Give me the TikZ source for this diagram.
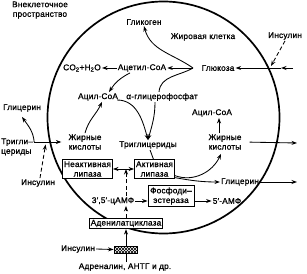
\documentclass[tikz,border=0pt]{standalone}
\usepackage{fontspec}
\setmainfont{Liberation Sans}[RawFeature={embolden=0.9}, LetterSpace=2]
\usetikzlibrary{arrows.meta,positioning,patterns}

\begin{document}
\begin{tikzpicture}[
    x=1pt, y=1pt,
    every node/.style={font=\fontsize{8.3}{9.6}\selectfont, inner sep=1pt},
    lbl/.style={align=center},
    enzyme/.style={rectangle, draw, fill=white, line width=0.9pt, align=center, inner sep=1.5pt},
    flow/.style={-{Stealth[length=5.5pt, width=4pt]}, line width=0.85pt},
    twoway/.style={{Stealth[length=5.5pt, width=4pt]}-{Stealth[length=5.5pt, width=4pt]}, line width=0.85pt},
    signal/.style={flow, dash pattern=on 4pt off 2.5pt},
    membrane/.style={line width=1.7pt},
]
\useasboundingbox (0,0) rectangle (307,273);

% Cell membrane
\draw[membrane] (163.5,155.5) circle (116pt);

% Outside the cell
\node[lbl] (space) at (40,263) {Внеклеточное\\пространство};
\node (insA) at (285,237) {Инсулин};
\node (glyL) at (22,165) {Глицерин};
\node[align=left, anchor=west] (tgOut) at (0,126) {Тригли–\\цериды};
\node (insL) at (38,90) {Инсулин};
\node (insB) at (78,24) {Инсулин};
\node (hormones) at (125,6) {Адреналин, АНТГ и др.};

% Inside the cell
\node (adipocyte) at (203,236) {Жировая клетка};
\node (glycogen) at (144,251) {Гликоген};
\node (glucose) at (218,205) {Глюкоза};
\node (acetyl) at (142,205) {Ацетил-CoA};
\node (co2) at (82,205) {CO\textsubscript{2}+H\textsubscript{2}O};
\node (acylL) at (98,176) {Ацил-CoA};
\node (agp) at (162,176) {α-глицерофосфат};
\node (acylR) at (212,160) {Ацил-CoA};
\node[lbl] (faL) at (85,131) {Жирные\\кислоты};
\node (tg) at (148,128) {Триглицериды};
\node[lbl] (faR) at (225,131) {Жирные\\кислоты};
\node (glyR) at (240,91) {Глицерин};
\node (camp) at (113,72) {3′,5′-цАМФ};
\node (amp) at (227,72) {5′-АМФ};

% Enzymes
\node[enzyme, minimum width=45pt] (inLip) at (87.5,104) {Неактивная\\липаза};
\node[enzyme, minimum width=37pt] (actLip) at (154.5,104) {Активная\\липаза};
\node[enzyme, minimum width=46pt] (pde) at (171,77) {Фосфоди–\\эстераза};
\node[enzyme, minimum width=72pt, inner xsep=0.8pt] (adc) at (126,49.5) {Аденилатциклаза};

% Glucose uptake and its fate
\coordinate (gin) at (293,205);
\coordinate (gate) at (281,205);
\coordinate (pore) at (271,207);
\coordinate (fork) at (193,205);
\draw[flow] (gin) -- (gate);
\draw[flow] (gate) -- (glucose.east);
\draw[signal] (insA.south) -- (pore);
\draw[flow] (fork) -- (acetyl.east);
\draw[flow] (fork) to[out=145, in=-75] (glycogen.south);
\draw[line width=0.85pt] (fork) to[out=210, in=85] ([xshift=-3pt]agp.north);
\draw[flow] (acetyl.west) -- (co2.east);
\draw[flow] ([xshift=-12pt]acetyl.south) to[bend right=15] ([xshift=11pt]acylL.north);

% Triglyceride synthesis
\draw[flow] (faL.north) to[out=75, in=-115] ([xshift=4pt]acylL.south);
\draw[flow] ([xshift=-2pt, yshift=-3pt]acylL.east) to[out=0, in=105] (tg.north);
\draw[flow] ([xshift=-7pt]agp.south) to[out=-90, in=75] (tg.north);

% Uptake of triglycerides from outside
\coordinate (split) at ([yshift=5pt]tgOut.east);
\coordinate (lipblock) at (46,131);
\draw[flow, shorten >=6pt] (split) -- (faL.west |- split);
\draw[flow] (split) to[out=95, in=-55] ([yshift=-4pt]glyL.south);
\draw[signal, shorten >=2.5pt] ([xshift=2pt]insL.north) -- (lipblock);

% Lipolysis
\coordinate (gout) at (297,91);
\coordinate (fout) at (297,130);
\draw[line width=0.85pt] ([xshift=2pt]tg.south) -- ([xshift=-1pt]actLip.north);
\draw[flow] ([yshift=3pt]actLip.south east) to[out=-20, in=-115] ([xshift=-4pt, yshift=-3pt]faR.south);
\draw[flow] ([yshift=1pt]actLip.south east) to[out=-10, in=180] (glyR.west);
\draw[flow] (glyR.east) -- (gout);
\draw[flow, shorten <=7pt] (faR.east) -- (fout);
\draw[flow] ([xshift=-6pt]faR.north) -- ([xshift=7pt]acylR.south);

% Lipase activation
\draw[twoway] (inLip.east) -- (actLip.west);
\draw[signal] (adc.north) -- (adc.north |- camp.south);
\draw[signal] (adc.north |- camp.north) -- (adc.north |- inLip.east);
\draw[flow] (camp.east) -- (camp.east -| pde.west);
\draw[flow] (amp.west -| pde.east) -- (amp.west);

% Hormone signal
\draw[flow] (hormones.north -| adc.south) -- (adc.south);
\node[draw, line width=0.85pt, minimum width=23pt, minimum height=7pt, inner sep=0pt, fill=white,
      postaction={pattern=north east lines}, postaction={pattern=north west lines}] (receptor) at (125.5,23.5) {};
\draw[flow] (insB.east) -- (receptor.west);

\end{tikzpicture}
\end{document}
